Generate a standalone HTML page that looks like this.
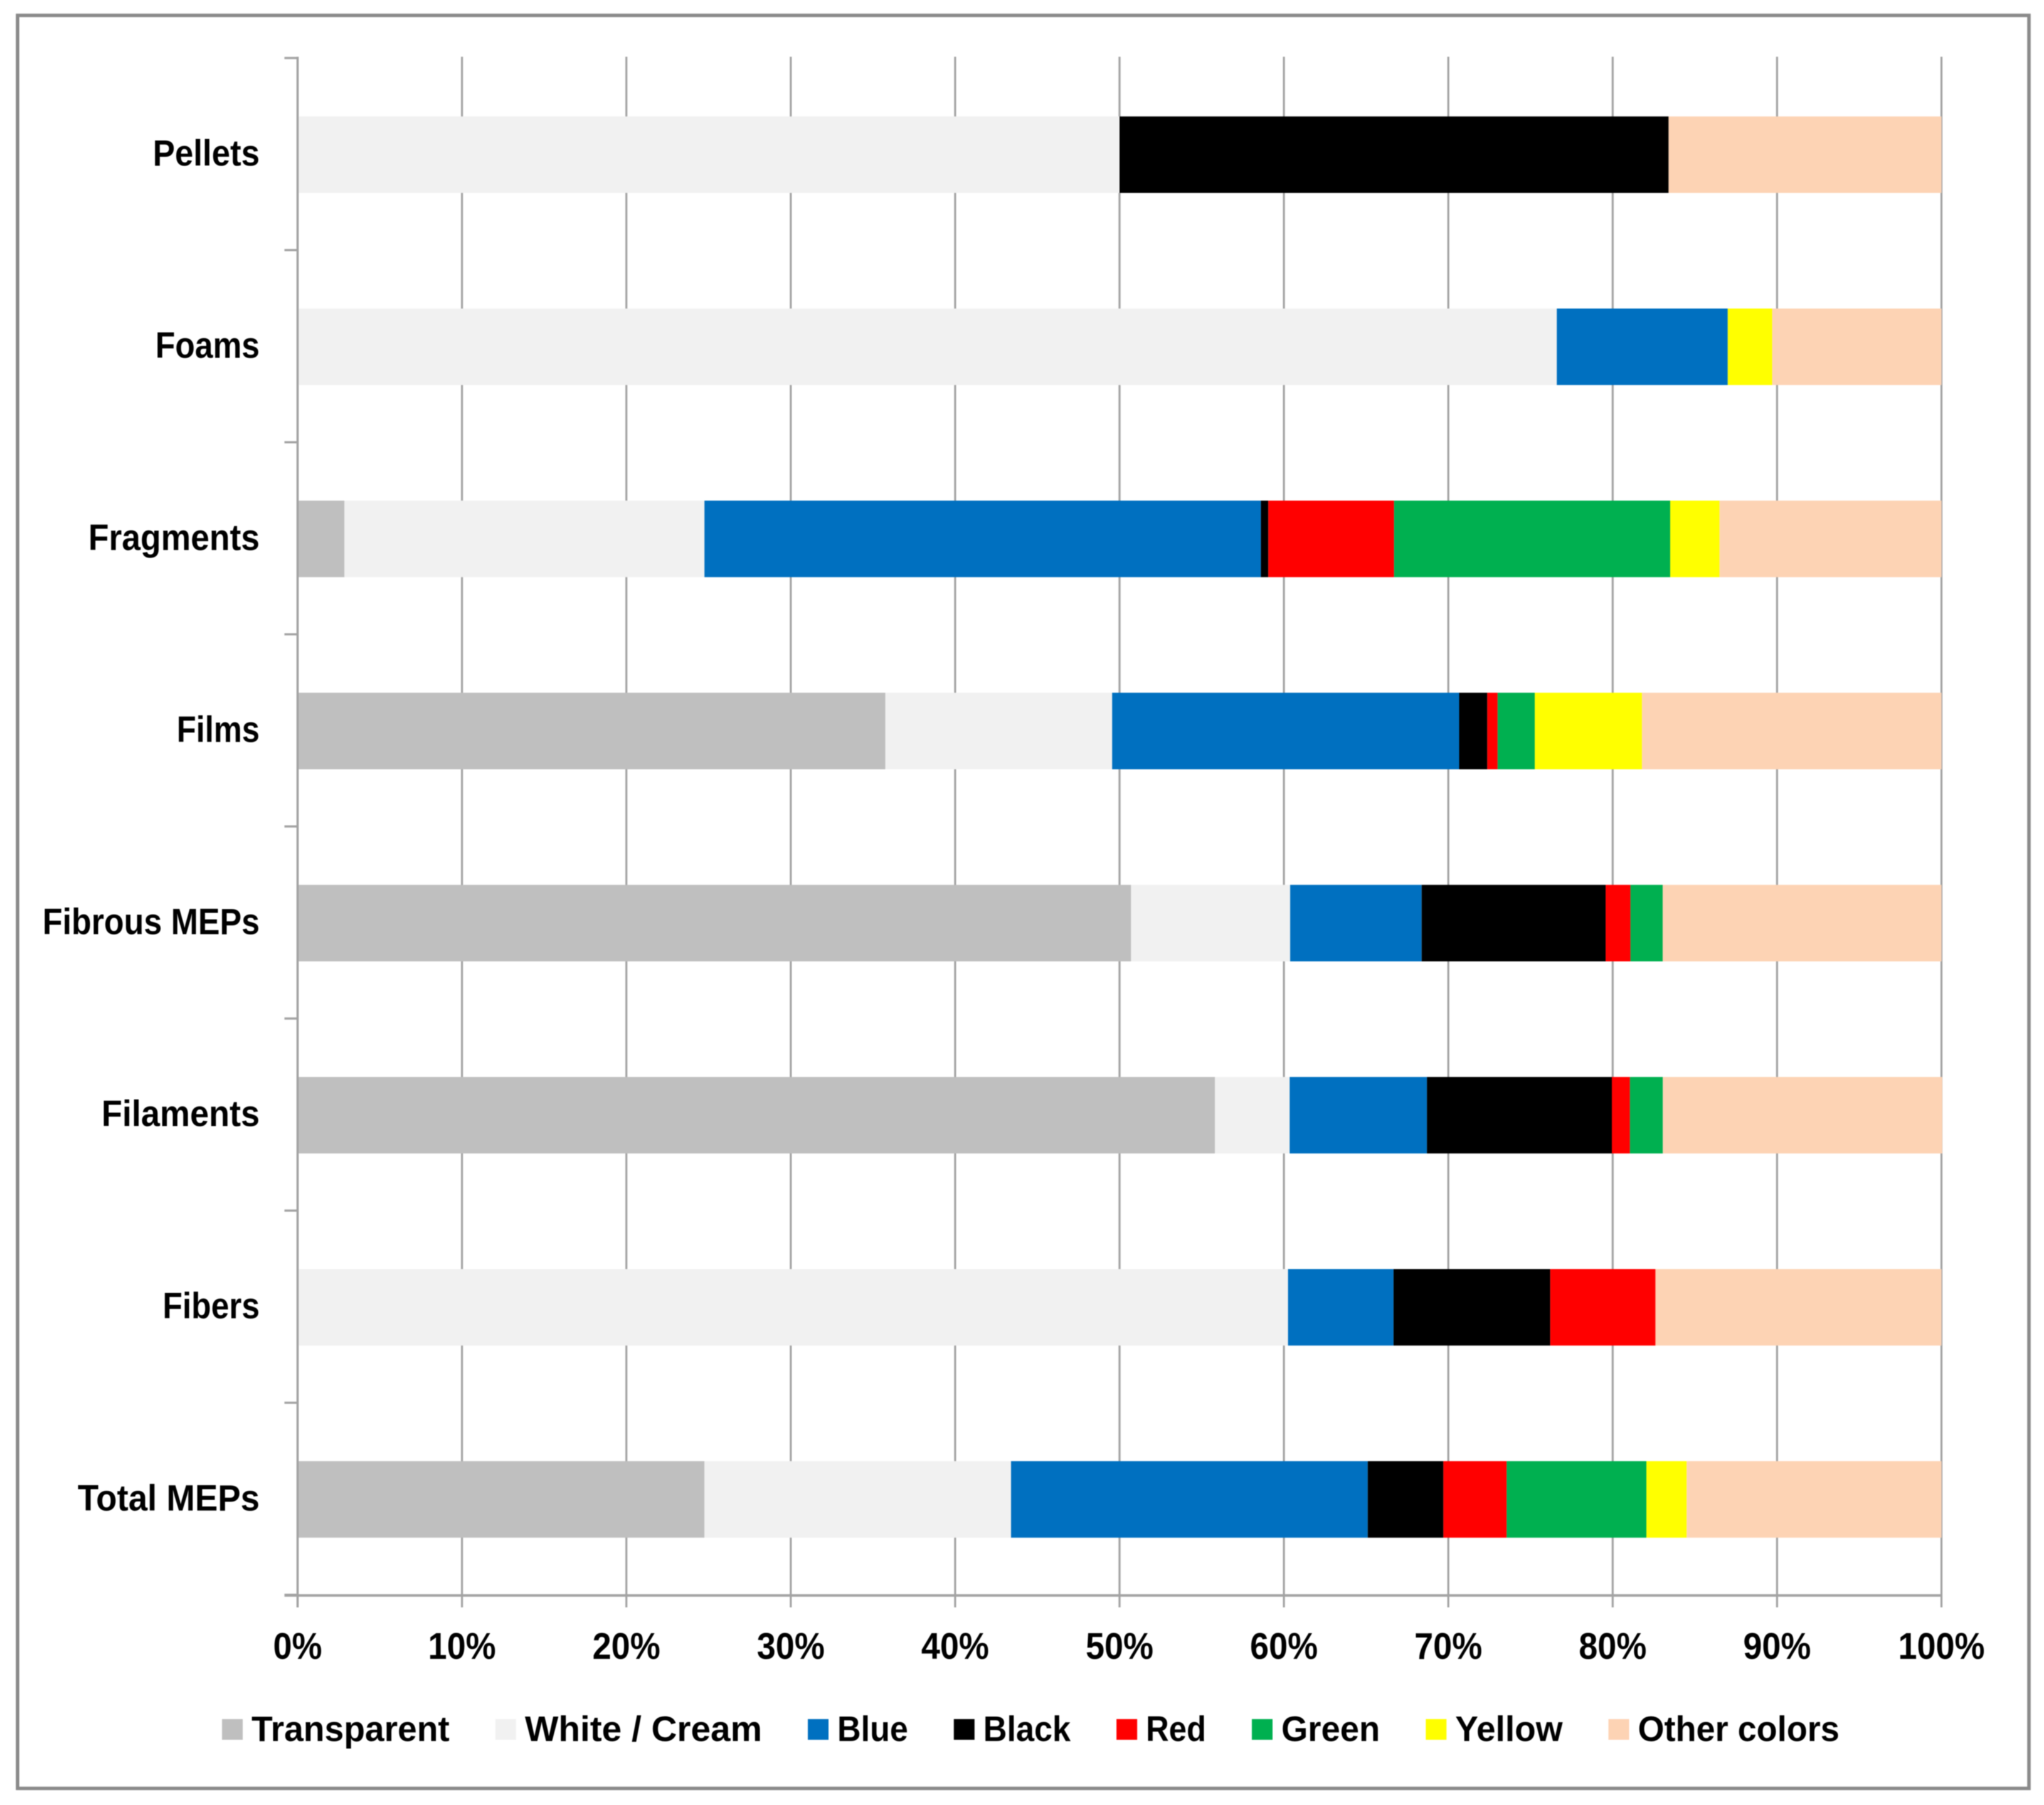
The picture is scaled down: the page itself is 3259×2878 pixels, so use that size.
<!DOCTYPE html>
<html lang="en">
<head>
<meta charset="utf-8">
<title>MEP colour distribution by shape</title>
<style>
  html, body { margin: 0; padding: 0; background: #ffffff; }
  body { width: 3259px; height: 2878px; overflow: hidden; }
  svg { display: block; filter: blur(0.7px); }
  text { font-family: "Liberation Sans", sans-serif; font-weight: bold; fill: #000000; }
</style>
</head>
<body>
<svg id="chart" xmlns="http://www.w3.org/2000/svg" width="3259" height="2878" viewBox="0 0 3259 2878">
  <rect x="0" y="0" width="3259" height="2878" fill="#ffffff"></rect>
  <rect x="28" y="24.5" width="3207" height="2827" fill="#ffffff" stroke="#8a8a8a" stroke-width="5.5"></rect>
  <g id="grid"></g>
  <g id="bars"></g>
  <g id="axes"></g>
  <g id="legend"></g>
</svg>
<script>
const categories = ["Pellets", "Foams", "Fragments", "Films", "Fibrous MEPs", "Filaments", "Fibers", "Total MEPs"];
const tickValues = [0, 10, 20, 30, 40, 50, 60, 70, 80, 90, 100];
const seriesNames = ["Transparent", "White / Cream", "Blue", "Black", "Red", "Green", "Yellow", "Other colors"];
const transparentValues = [0, 0, 2.85, 35.75, 50.7, 55.8, 0, 24.75];
const whiteCreamValues = [50, 76.6, 21.9, 13.8, 9.68, 4.55, 60.25, 18.65];
const blueValues = [0, 10.4, 33.85, 21.11, 8.0, 8.35, 6.42, 21.7];
const blackValues = [33.4, 0, 0.45, 1.71, 11.19, 11.25, 9.53, 4.6];
const redValues = [0, 0, 7.65, 0.63, 1.51, 1.1, 6.4, 3.85];
const greenValues = [0, 0, 16.8, 2.26, 1.96, 2.0, 0, 8.5];
const yellowValues = [0, 2.7, 3.0, 6.52, 0, 0, 0, 2.45];
const otherValues = [16.6, 10.3, 13.5, 18.22, 16.96, 17.0, 17.4, 15.5];

const seriesValues = [transparentValues, whiteCreamValues, blueValues, blackValues, redValues, greenValues, yellowValues, otherValues];
const seriesColors = ["#bfbfbf", "#f1f1f1", "#0070c0", "#000000", "#ff0000", "#00b050", "#ffff00", "#fdd3b4"];

const NS = "http://www.w3.org/2000/svg";
const plotLeft = 474.5;
const plotWidth = 2621;
const plotTop = 92.5;
const bandHeight = 306.3;
const barHeight = 122;
const barShift = 1;
const axisColor = "#a3a3a3";

/* Horizontal glyph condensation per label, standing in for the narrower original typeface. */
const categoryCondense = [0.911, 0.889, 0.921, 0.873, 0.895, 0.931, 0.888, 0.941];
const legendCondense = [0.968, 0.995, 0.913, 0.916, 0.89, 0.955, 0.965, 0.948];

function xScale(v) { return plotLeft + (v / 100) * plotWidth; }
function bandTop(i) { return plotTop + i * bandHeight; }
function bandCenter(i) { return bandTop(i) + bandHeight / 2 + barShift; }
const plotBottom = bandTop(categories.length);

function make(tag, attrs, parent) {
  const el = document.createElementNS(NS, tag);
  for (const k in attrs) el.setAttribute(k, attrs[k]);
  parent.appendChild(el);
  return el;
}
function squeeze(el, ratio) {
  const len = el.getComputedTextLength();
  el.setAttribute("textLength", (len * ratio).toFixed(1));
  el.setAttribute("lengthAdjust", "spacingAndGlyphs");
  return len * ratio;
}

const gridG = document.getElementById("grid");
const barsG = document.getElementById("bars");
const axesG = document.getElementById("axes");
const legendG = document.getElementById("legend");

tickValues.forEach(function (t) {
  const line = make("line", { x1: xScale(t), x2: xScale(t), y1: plotTop - 2, y2: plotBottom + 20, stroke: axisColor, "stroke-width": 3.2 }, gridG);
  
  
});

categories.forEach(function (cat, i) {
  let cum = 0;
  seriesValues.forEach(function (vals, s) {
    const v = vals[i];
    if (v > 0) {
      const rect = make("rect", {
        x: xScale(cum),
        y: bandCenter(i) - barHeight / 2,
        width: xScale(cum + v) - xScale(cum),
        height: barHeight,
        fill: seriesColors[s]
      }, barsG);
      
      
    }
    cum += v;
  });
});

const yAxis = make("line", { x1: plotLeft, x2: plotLeft, y1: plotTop - 2, y2: plotBottom + 20, stroke: axisColor, "stroke-width": 3.5 }, axesG);



const xAxis = make("line", { x1: plotLeft - 21, x2: xScale(100) + 1, y1: plotBottom + 1, y2: plotBottom + 1, stroke: axisColor, "stroke-width": 4 }, axesG);



for (let i = 0; i <= categories.length; i++) {
  const tick = make("line", { x1: plotLeft - 21, x2: plotLeft, y1: bandTop(i), y2: bandTop(i), stroke: axisColor, "stroke-width": 3.5 }, axesG);
  
  
}

categories.forEach(function (cat, i) {
  const label = make("text", { x: 414, y: bandCenter(i) + 17.5, "text-anchor": "end", "font-size": 58 }, axesG);
  label.textContent = cat;
  
  
  squeeze(label, categoryCondense[i]);
});

tickValues.forEach(function (t) {
  const label = make("text", { x: xScale(t), y: 2645, "text-anchor": "middle", "font-size": 59 }, axesG);
  label.textContent = t + "%";
  
  
  squeeze(label, 0.915);
});

let legendX = 354;
seriesNames.forEach(function (name, s) {
  const swatch = make("rect", { x: legendX, y: 2741, width: 33, height: 33, fill: seriesColors[s] }, legendG);
  
  
  const label = make("text", { x: legendX + 47, y: 2776, "font-size": 57 }, legendG);
  label.textContent = name;
  
  
  const w = squeeze(label, legendCondense[s]);
  legendX += 47 + w + 73;
});
</script>
</body>
</html>
